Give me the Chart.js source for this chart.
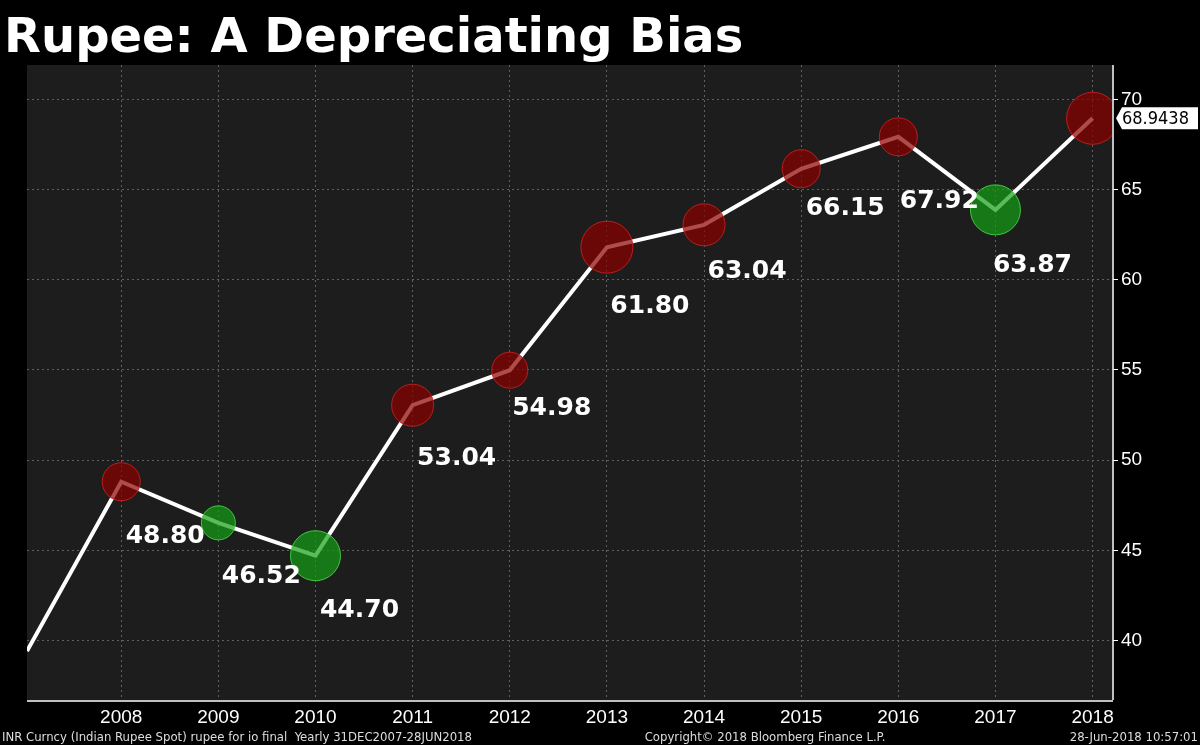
<!DOCTYPE html>
<html>
<head>
<meta charset="utf-8">
<script src="https://cdn.jsdelivr.net/npm/chart.js@4"></script>
<style>
  html, body { margin: 0; padding: 0; background: #000; }
  #wrap { width: 1200px; height: 745px; }
</style>
</head>
<body>
<div id="wrap"><canvas id="c" width="1200" height="745"></canvas></div>
<script>
// Yearly INR per USD (Bloomberg), first point is 31 Dec 2007
const years = [2007.03, 2008, 2009, 2010, 2011, 2012, 2013, 2014, 2015, 2016, 2017, 2018];
const rates = [39.41, 48.80, 46.52, 44.70, 53.04, 54.98, 61.80, 63.04, 66.15, 67.92, 63.87, 68.9438];
const labelTexts = ['', '48.80', '46.52', '44.70', '53.04', '54.98', '61.80', '63.04', '66.15', '67.92', '63.87', ''];
const bubbleSizes = [0, 19, 17, 25, 21, 18, 26, 21, 19, 19, 25, 26];
const yTicks = [40, 45, 50, 55, 60, 65, 70];
const xTicks = [2008, 2009, 2010, 2011, 2012, 2013, 2014, 2015, 2016, 2017, 2018];

// red = rupee weakened that year, green = strengthened
const bubbleColors = rates.map((v, i) => i > 0 && v < rates[i - 1] ? 'rgba(20,160,20,0.7)' : 'rgba(140,0,0,0.7)');
const bubbleBorders = rates.map((v, i) => i > 0 && v < rates[i - 1] ? 'rgba(70,210,70,0.9)' : 'rgba(200,30,30,0.9)');

// label offsets from the point (pixels)
const labelOffsets = [[0, 0], [44, 55], [43, 54], [44, 55], [44, 53], [42, 38], [43, 59], [43, 47], [44, 40], [41, 65], [37, 56], [0, 0]];

const decor = {
  id: 'decor',
  beforeDraw(chart) {
    const { ctx, chartArea: a } = chart;
    ctx.save();
    ctx.fillStyle = '#000';
    ctx.fillRect(0, 0, chart.width, chart.height);
    ctx.fillStyle = '#1d1d1d';
    ctx.fillRect(a.left, a.top, a.right - a.left, a.bottom - a.top);
    ctx.restore();
  },
  afterDraw(chart) {
    const { ctx, chartArea: a } = chart;
    const xs = chart.scales.x, ys = chart.scales.y;
    ctx.save();
    // title
    ctx.fillStyle = '#fff';
    ctx.font = 'bold 48px "DejaVu Sans"';
    ctx.textBaseline = 'alphabetic';
    ctx.fillText('Rupee: A Depreciating Bias', 4, 52);

    // axis lines
    ctx.strokeStyle = '#fff';
    ctx.lineWidth = 1.5;
    ctx.beginPath();
    ctx.moveTo(a.right + 1, a.top);
    ctx.lineTo(a.right + 1, a.bottom);
    ctx.moveTo(a.left, a.bottom + 1);
    ctx.lineTo(a.right + 1, a.bottom + 1);
    ctx.stroke();

    // value labels
    ctx.font = 'bold 25px "DejaVu Sans"';
    ctx.textAlign = 'center';
    ctx.textBaseline = 'middle';
    labelTexts.forEach((t, i) => {
      if (!t) return;
      const px = xs.getPixelForValue(years[i]), py = ys.getPixelForValue(rates[i]);
      ctx.fillText(t, px + labelOffsets[i][0], py + labelOffsets[i][1]);
    });

    // last value tag
    const last = rates[rates.length - 1];
    const ty = ys.getPixelForValue(last);
    ctx.fillStyle = '#fff';
    ctx.beginPath();
    ctx.moveTo(a.right + 4, ty);
    ctx.lineTo(a.right + 10, ty - 11);
    ctx.lineTo(1198, ty - 11);
    ctx.lineTo(1198, ty + 11);
    ctx.lineTo(a.right + 10, ty + 11);
    ctx.closePath();
    ctx.fill();
    ctx.fillStyle = '#000';
    ctx.font = '18px "DejaVu Sans Condensed", "DejaVu Sans"';
    ctx.textAlign = 'left';
    ctx.fillText(String(last), a.right + 10, ty + 1);

    // footer
    ctx.fillStyle = '#ddd';
    ctx.font = '13px "DejaVu Sans Condensed", "DejaVu Sans"';
    ctx.textBaseline = 'alphabetic';
    ctx.textAlign = 'left';
    ctx.fillText('INR Curncy (Indian Rupee Spot) rupee for io final  Yearly 31DEC2007-28JUN2018', 2, 741);
    ctx.textAlign = 'center';
    ctx.fillText('Copyright\u00A9 2018 Bloomberg Finance L.P.', 765, 741);
    ctx.textAlign = 'right';
    ctx.fillText('28-Jun-2018 10:57:01', 1198, 741);
    ctx.restore();
  }
};

const points = years.map((x, i) => ({ x, y: rates[i] }));

new Chart(document.getElementById('c'), {
  type: 'line',
  data: {
    datasets: [
      {
        type: 'bubble',
        data: points.map((p, i) => ({ x: p.x, y: p.y, r: bubbleSizes[i] })),
        backgroundColor: bubbleColors,
        borderColor: bubbleBorders,
        borderWidth: 1,
        order: 0
      },
      {
        data: points,
        borderColor: '#fff',
        borderWidth: 4,
        pointRadius: 0,
        tension: 0,
        order: 1
      }
    ]
  },
  options: {
    responsive: false,
    animation: false,
    layout: { padding: { top: 65, left: 0, right: 0, bottom: 0 } },
    plugins: { legend: { display: false }, tooltip: { enabled: false } },
    scales: {
      x: {
        type: 'linear',
        min: 2007.03,
        max: 2018.2,
        afterBuildTicks: s => { s.ticks = xTicks.map(v => ({ value: v })); },
        afterFit: s => { s.height = 45; s.paddingLeft = 0; s.paddingRight = 0; },
        grid: { color: '#606060', drawTicks: false },
        border: { display: true, color: 'rgba(0,0,0,0)', dash: [2, 3] },
        ticks: { color: '#fff', font: { size: 19, family: 'Liberation Sans' }, padding: 6, callback: v => String(v) }
      },
      y: {
        position: 'right',
        min: 36.7,
        max: 71.9,
        afterBuildTicks: s => { s.ticks = yTicks.map(v => ({ value: v })); },
        afterFit: s => { s.width = 88; s.paddingTop = 0; s.paddingBottom = 0; },
        grid: { color: '#606060', tickColor: '#fff', tickLength: 6 },
        border: { display: true, color: 'rgba(0,0,0,0)', dash: [2, 3] },
        ticks: { color: '#fff', font: { size: 19, family: 'Liberation Sans' }, padding: 3 }
      }
    }
  },
  plugins: [decor]
});
</script>
</body>
</html>
